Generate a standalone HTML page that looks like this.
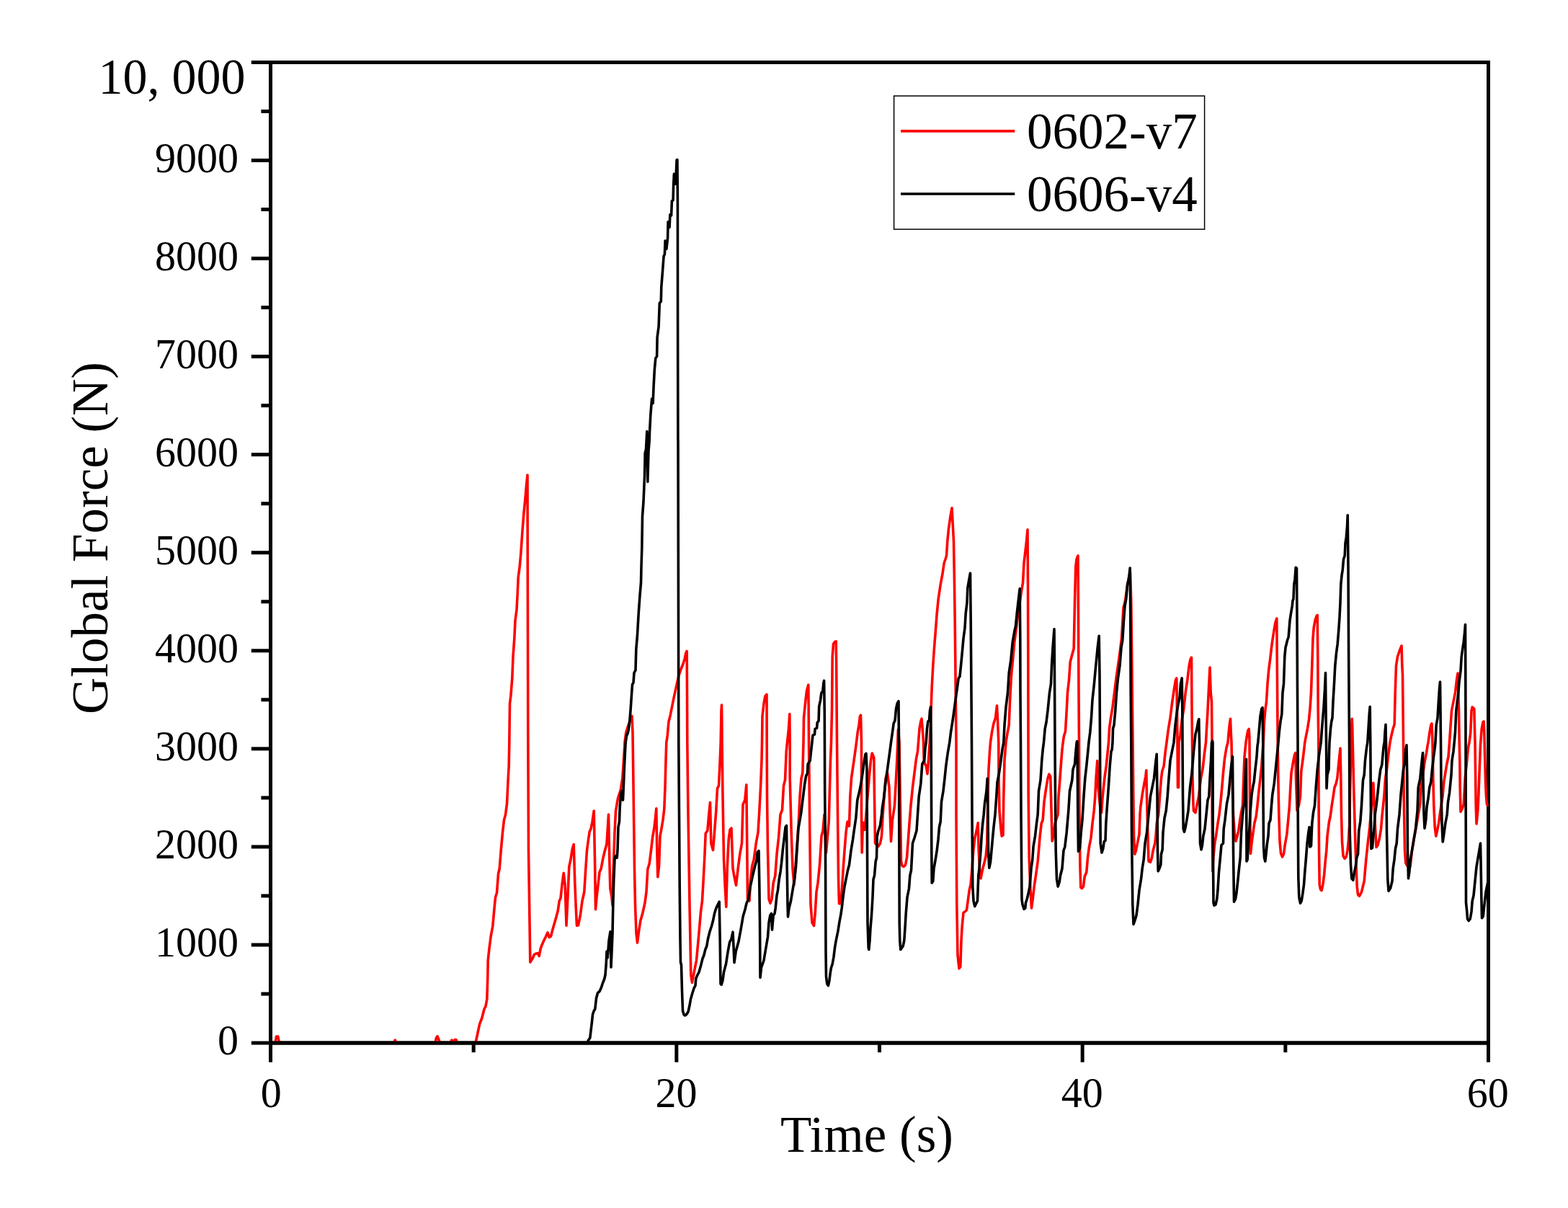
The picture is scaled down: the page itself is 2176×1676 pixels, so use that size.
<!DOCTYPE html>
<html lang="en"><head><meta charset="utf-8"><title>Global Force vs Time</title>
<style>html,body{margin:0;padding:0;background:#fff}body{width:2176px;height:1676px;overflow:hidden}svg{display:block}text{font-family:"Liberation Serif","Times New Roman",serif;fill:#000}</style></head><body>
<svg width="2176" height="1676" viewBox="0 0 2176 1676" role="img" aria-label="Global Force (N) versus Time (s)">
<rect x="0" y="0" width="2176" height="1676" fill="#fff"/>
<rect x="375.5" y="86.5" width="1690" height="1360.5" fill="none" stroke="#000" stroke-width="5"/>
<g fill="none" stroke-width="3.6" stroke-linejoin="round" stroke-linecap="round">
<polyline stroke="#ff0000" points="375.5,1447.0 382.0,1447.0 383.5,1438.0 385.8,1438.0 387.5,1447.0 546.5,1447.0 548.3,1443.0 550.0,1447.0 604.0,1447.0 605.5,1440.0 607.0,1437.6 609.5,1444.0 611.0,1447.0 625.0,1447.0 626.8,1443.0 628.5,1446.0 630.0,1446.0 631.0,1442.5 633.0,1442.5 634.5,1447.0 659.5,1447.0 660.0,1447.0 665.5,1421.2 668.8,1412.5 672.0,1400.0 674.0,1396.2 675.8,1386.2 676.8,1355.0 677.2,1332.5 678.8,1317.5 681.2,1298.8 683.8,1285.0 685.8,1262.5 687.5,1245.0 689.5,1238.8 691.5,1212.5 693.2,1205.0 695.2,1180.0 697.5,1155.0 699.5,1137.5 701.5,1130.5 703.5,1115.0 705.2,1080.0 706.2,1062.5 706.8,1030.0 706.8,1030.0 707.5,976.0 708.8,966.0 710.8,941.0 712.0,911.0 713.8,886.0 715.0,861.0 717.0,846.0 718.2,823.5 719.2,801.0 721.2,786.0 723.0,766.0 725.0,736.0 727.0,711.0 728.8,693.5 730.5,673.5 732.0,659.0 732.2,761.0 732.5,886.0 732.8,1030.0 732.8,1030.0 733.5,1180.0 735.0,1280.0 735.8,1335.0 737.0,1333.0 739.0,1330.0 741.2,1324.5 743.8,1323.0 746.2,1322.5 748.2,1326.5 750.2,1316.2 752.0,1311.2 754.5,1305.5 757.0,1300.5 760.0,1293.8 762.2,1300.5 764.5,1299.0 766.8,1290.0 769.0,1282.5 771.5,1273.8 774.2,1263.8 776.2,1250.0 778.0,1246.2 780.0,1227.5 782.2,1211.2 784.2,1228.8 786.0,1284.2 788.0,1242.5 789.8,1202.5 792.0,1192.5 794.2,1178.0 796.2,1171.5 797.8,1225.0 799.2,1258.8 800.5,1284.2 802.5,1283.8 805.5,1268.8 808.0,1250.0 810.8,1237.5 812.5,1210.0 814.5,1180.0 816.5,1165.0 818.2,1153.8 820.0,1150.0 822.0,1140.0 824.2,1125.0 825.5,1192.5 826.5,1261.8 828.0,1245.0 830.0,1227.5 832.0,1210.0 834.2,1205.0 837.0,1190.0 839.5,1180.0 842.0,1170.5 844.5,1130.0 845.8,1192.5 846.8,1232.5 848.8,1243.8 850.0,1256.2 851.2,1205.0 853.0,1155.0 854.5,1125.0 857.5,1107.5 861.2,1096.2 863.8,1080.0 865.5,1055.0 867.0,1030.0 867.0,1030.0 868.8,1016.0 871.2,1008.5 873.8,1001.0 875.8,996.0 877.0,993.5 878.0,1016.0 878.2,1030.0 878.2,1030.0 879.2,1105.0 880.5,1205.0 881.5,1255.0 883.0,1295.0 884.5,1308.0 886.5,1292.5 888.8,1277.5 892.0,1266.2 895.0,1252.5 897.0,1237.5 898.8,1206.2 901.2,1198.0 903.8,1177.5 905.5,1162.5 908.0,1147.5 909.5,1135.0 910.8,1121.8 911.8,1180.0 912.8,1216.8 914.5,1202.5 916.0,1160.0 917.5,1152.5 920.0,1137.5 921.8,1122.5 923.0,1092.5 924.0,1055.0 924.8,1030.0 924.8,1030.0 926.2,1021.0 928.0,1001.0 930.0,993.5 932.5,981.0 935.0,968.5 937.5,957.2 940.0,946.0 942.0,937.2 945.0,928.5 948.0,921.0 950.0,914.8 951.8,906.0 953.2,903.5 953.5,961.0 953.8,1030.0 953.8,1030.0 955.0,1130.0 957.0,1255.0 958.8,1352.5 960.5,1363.2 962.5,1352.5 964.5,1342.5 966.5,1332.5 968.8,1307.5 970.8,1285.0 972.5,1265.0 974.5,1250.0 976.2,1220.0 978.0,1185.0 979.2,1156.2 981.8,1152.5 983.8,1130.0 985.5,1113.2 986.8,1170.0 989.5,1179.5 991.5,1155.0 993.8,1125.0 995.5,1093.8 997.5,1090.0 999.2,1055.0 1000.2,1030.0 1000.2,1030.0 1001.0,986.0 1001.5,978.0 1001.8,998.5 1002.0,1030.0 1002.0,1030.0 1003.0,1105.0 1004.5,1192.5 1006.2,1230.0 1007.8,1258.2 1009.2,1205.0 1011.2,1165.0 1013.0,1151.2 1015.0,1149.0 1017.0,1205.0 1019.0,1216.2 1021.5,1228.2 1024.2,1205.0 1026.8,1185.0 1029.5,1170.0 1031.0,1116.2 1033.8,1110.0 1035.8,1088.8 1036.8,1180.0 1037.5,1247.5 1040.0,1250.0 1041.5,1220.0 1043.8,1201.2 1046.2,1192.5 1049.2,1170.0 1052.0,1155.0 1053.8,1125.0 1055.5,1092.5 1057.0,1055.0 1057.5,1030.0 1057.5,1030.0 1058.0,993.5 1060.0,976.0 1061.8,966.0 1064.0,963.5 1064.1,998.5 1064.2,1030.0 1064.2,1030.0 1064.5,1105.0 1065.5,1180.0 1067.0,1247.5 1069.0,1253.2 1071.0,1247.5 1073.2,1225.0 1075.8,1215.0 1078.0,1185.0 1080.5,1162.5 1083.0,1130.0 1085.5,1123.8 1087.5,1090.0 1089.5,1082.5 1091.2,1042.5 1092.5,1030.0 1092.5,1030.0 1094.5,1011.0 1095.8,990.5 1096.0,1011.0 1096.2,1030.0 1096.2,1030.0 1096.2,1080.0 1098.2,1155.0 1100.0,1205.0 1102.0,1227.5 1103.8,1205.0 1106.2,1170.0 1108.2,1142.5 1110.0,1105.0 1112.0,1080.0 1113.8,1072.5 1115.0,1030.0 1115.0,1030.0 1115.5,996.0 1117.5,976.0 1119.5,958.5 1121.8,950.2 1122.2,986.0 1122.5,1030.0 1122.5,1030.0 1123.8,1155.0 1125.0,1255.0 1127.0,1280.0 1129.5,1284.5 1131.2,1267.5 1133.0,1237.5 1135.0,1225.0 1137.5,1200.0 1140.0,1160.0 1142.0,1152.5 1144.0,1130.0 1146.5,1183.0 1150.2,1140.0 1151.5,1092.5 1152.5,1055.0 1153.5,1030.0 1153.5,1030.0 1154.5,986.0 1155.2,911.0 1156.5,893.5 1158.5,890.5 1160.2,889.8 1160.8,936.0 1161.5,1030.0 1161.5,1030.0 1162.0,1080.0 1162.8,1155.0 1163.5,1217.5 1164.5,1253.8 1166.5,1253.8 1168.2,1237.5 1170.2,1205.0 1172.0,1180.0 1174.0,1155.0 1176.0,1140.0 1178.5,1146.2 1179.8,1105.0 1181.5,1080.0 1184.0,1062.5 1186.5,1045.0 1188.5,1030.0 1188.5,1030.0 1190.2,1016.0 1192.0,1006.0 1193.5,993.5 1194.5,992.2 1195.0,1011.0 1195.5,1030.0 1195.5,1030.0 1195.5,1080.0 1195.5,1130.0 1196.2,1183.0 1197.0,1155.0 1197.8,1141.2 1199.5,1145.0 1200.2,1151.2 1202.0,1130.0 1204.0,1105.0 1206.5,1075.0 1208.5,1055.0 1210.2,1045.0 1212.8,1051.2 1213.5,1105.0 1214.5,1170.0 1216.5,1172.5 1219.0,1174.2 1221.5,1170.0 1223.5,1160.0 1225.2,1130.0 1227.0,1105.0 1229.0,1080.0 1231.5,1072.5 1234.0,1092.5 1235.2,1130.0 1236.5,1167.5 1238.5,1137.5 1241.5,1117.5 1243.5,1080.0 1244.8,1055.0 1245.8,1030.0 1245.8,1030.0 1246.2,1016.0 1246.5,1012.0 1247.2,1021.0 1248.0,1030.0 1248.0,1030.0 1249.2,1105.0 1250.5,1195.0 1252.0,1201.2 1254.0,1202.5 1256.5,1200.0 1258.5,1190.0 1260.2,1167.5 1262.0,1142.5 1264.0,1117.5 1266.5,1092.5 1269.0,1072.5 1271.5,1052.5 1273.5,1042.5 1274.5,1030.0 1274.5,1030.0 1276.0,1011.0 1277.8,1001.0 1279.0,997.2 1280.2,1011.0 1281.5,1030.0 1281.5,1030.0 1282.2,1055.0 1283.5,1060.0 1285.2,1062.5 1287.0,1073.8 1288.5,1055.0 1290.2,1030.0 1290.2,1030.0 1291.5,1001.0 1292.0,986.0 1293.2,953.5 1294.8,923.5 1296.5,898.5 1298.5,873.5 1300.2,851.0 1302.2,831.0 1305.2,811.0 1307.8,797.2 1310.2,781.0 1312.0,776.0 1313.5,771.0 1314.8,751.0 1316.5,733.5 1319.0,716.0 1321.0,704.8 1322.0,723.5 1323.5,751.0 1324.5,811.0 1325.2,861.0 1326.0,936.0 1326.5,986.0 1327.0,1030.0 1327.0,1030.0 1327.0,1130.0 1327.8,1255.0 1329.0,1325.0 1331.0,1343.8 1332.8,1341.2 1334.0,1305.0 1335.2,1285.0 1337.0,1266.2 1339.0,1265.0 1341.5,1262.5 1343.2,1250.0 1345.2,1235.0 1347.0,1227.5 1349.0,1205.0 1350.8,1180.0 1352.8,1162.5 1355.2,1152.5 1357.2,1141.8 1358.2,1180.0 1359.5,1205.0 1361.0,1218.8 1362.8,1210.0 1364.5,1202.5 1366.5,1195.0 1368.2,1187.5 1369.8,1170.0 1371.0,1105.0 1372.0,1067.5 1373.5,1042.5 1374.5,1030.0 1374.5,1030.0 1376.5,1016.0 1379.0,1003.5 1381.5,996.0 1383.5,979.0 1384.5,998.5 1385.8,1030.0 1385.8,1030.0 1386.0,1080.0 1387.0,1125.0 1389.0,1150.0 1390.2,1160.0 1392.0,1158.8 1392.8,1105.0 1394.0,1055.0 1396.0,1030.0 1396.0,1030.0 1397.8,1018.5 1400.2,1006.0 1401.5,973.5 1402.8,948.5 1404.0,931.0 1406.0,911.0 1407.8,891.0 1410.2,873.5 1412.8,851.0 1415.2,836.0 1417.8,818.5 1419.5,808.5 1421.0,781.0 1422.8,766.0 1424.5,751.0 1426.0,734.8 1426.5,811.0 1426.8,911.0 1427.0,1030.0 1427.0,1030.0 1427.2,1105.0 1428.2,1190.0 1429.8,1230.0 1431.5,1260.0 1433.5,1245.0 1435.2,1230.0 1437.8,1212.5 1440.2,1195.0 1441.5,1180.0 1443.2,1160.0 1445.2,1142.5 1447.2,1137.5 1449.0,1112.5 1451.5,1095.0 1454.0,1080.0 1455.8,1074.2 1457.8,1077.5 1458.5,1105.0 1459.5,1142.5 1460.2,1167.0 1462.0,1160.0 1464.0,1142.5 1466.5,1135.0 1468.2,1130.0 1469.0,1105.0 1471.0,1080.0 1472.8,1055.0 1474.0,1040.0 1475.2,1030.0 1475.2,1030.0 1476.5,1021.0 1478.5,1014.8 1480.2,986.0 1481.5,961.0 1483.5,943.5 1485.2,918.5 1487.8,908.5 1490.2,899.8 1491.5,836.0 1492.8,786.0 1494.0,776.0 1496.0,771.0 1496.5,861.0 1497.0,961.0 1497.5,1030.0 1497.5,1030.0 1497.8,1105.0 1498.2,1155.0 1499.0,1205.0 1499.8,1231.2 1501.5,1232.5 1503.5,1230.0 1505.2,1216.2 1507.8,1210.0 1509.5,1190.0 1511.5,1175.0 1514.0,1162.5 1516.0,1142.5 1518.2,1125.0 1519.8,1105.0 1521.0,1080.0 1522.8,1055.5 1524.0,1092.5 1526.5,1117.5 1528.5,1127.5 1530.2,1105.0 1532.8,1080.0 1535.2,1062.5 1537.0,1045.0 1538.5,1030.0 1538.5,1030.0 1539.5,1011.0 1541.5,996.0 1544.0,981.0 1546.5,961.0 1549.0,941.0 1551.5,923.5 1554.0,906.0 1556.5,886.0 1559.0,843.5 1561.5,833.5 1564.0,816.0 1566.5,801.0 1568.5,794.8 1569.8,836.0 1571.0,936.0 1572.0,1030.0 1572.0,1030.0 1572.8,1105.0 1573.5,1160.0 1574.8,1185.0 1576.5,1180.0 1578.5,1170.0 1581.0,1157.5 1582.0,1130.0 1582.8,1120.0 1585.2,1102.5 1587.8,1087.5 1589.8,1077.5 1590.8,1068.8 1591.5,1105.0 1592.8,1155.0 1594.0,1195.0 1596.5,1196.2 1598.5,1190.0 1600.2,1180.0 1602.8,1170.0 1604.0,1160.0 1605.2,1142.5 1607.8,1130.0 1609.5,1105.0 1611.5,1080.0 1612.8,1070.0 1615.2,1062.5 1617.0,1045.0 1619.0,1030.0 1619.0,1030.0 1621.5,1011.0 1624.0,996.0 1626.5,976.0 1629.0,958.5 1631.5,943.5 1632.8,941.0 1633.5,986.0 1634.0,1030.0 1634.0,1030.0 1634.5,1092.5 1635.5,1092.5 1636.0,1030.0 1636.0,1030.0 1637.8,1021.0 1640.2,998.5 1642.8,983.5 1645.2,961.0 1647.8,943.5 1650.2,923.5 1652.0,914.8 1653.5,912.2 1654.0,986.0 1654.5,1030.0 1654.5,1030.0 1655.0,1080.0 1655.8,1112.5 1656.5,1125.0 1659.0,1127.5 1661.0,1117.5 1663.5,1105.0 1666.5,1080.0 1669.0,1067.5 1671.5,1045.0 1673.5,1030.0 1673.5,1030.0 1674.5,1011.0 1676.0,986.0 1677.8,948.5 1679.0,926.0 1680.2,961.0 1681.5,973.5 1682.0,1030.0 1682.0,1030.0 1682.2,1130.0 1682.8,1208.8 1683.8,1190.0 1685.8,1170.0 1687.5,1160.0 1690.0,1142.5 1692.0,1130.0 1694.0,1112.5 1695.8,1092.5 1697.5,1072.5 1699.5,1052.5 1702.0,1037.5 1704.0,1030.0 1704.0,1030.0 1705.2,1016.0 1706.5,1003.5 1707.5,997.2 1708.2,1016.0 1709.0,1030.0 1709.0,1030.0 1709.5,1055.0 1710.2,1092.5 1711.5,1130.0 1713.2,1155.0 1715.0,1167.0 1717.0,1160.0 1718.8,1152.5 1720.8,1137.5 1722.5,1127.5 1724.5,1117.5 1725.8,1080.0 1727.0,1050.0 1729.0,1030.0 1729.0,1030.0 1730.8,1018.5 1732.0,1013.5 1733.2,1011.5 1733.8,1021.0 1734.0,1030.0 1734.0,1030.0 1734.5,1105.0 1735.5,1184.2 1737.0,1170.0 1739.0,1155.0 1740.8,1142.5 1743.2,1132.5 1745.0,1117.5 1747.0,1097.5 1749.0,1080.0 1750.8,1062.5 1752.0,1045.0 1753.2,1030.0 1753.2,1030.0 1754.5,1001.0 1755.8,986.0 1757.5,973.5 1759.0,948.5 1760.8,928.5 1762.5,916.0 1764.5,898.5 1766.2,886.0 1768.2,873.5 1770.0,863.5 1771.8,858.0 1772.2,911.0 1772.8,986.0 1773.2,1030.0 1773.2,1030.0 1773.8,1080.0 1774.8,1130.0 1776.0,1167.5 1777.5,1183.8 1779.5,1188.8 1781.5,1185.0 1783.2,1172.5 1785.8,1157.5 1787.5,1140.0 1789.5,1117.5 1790.8,1092.5 1792.0,1072.5 1794.5,1057.5 1796.5,1047.5 1797.8,1044.5 1798.5,1080.0 1800.0,1124.5 1802.5,1117.5 1804.5,1105.0 1805.8,1070.0 1808.2,1052.5 1810.0,1037.5 1810.8,1030.0 1810.8,1030.0 1812.5,1021.0 1814.5,1011.0 1816.5,998.5 1818.2,981.0 1819.5,961.0 1820.8,923.5 1822.0,886.0 1823.2,871.0 1825.0,861.0 1827.0,854.8 1828.2,853.5 1828.8,911.0 1829.2,986.0 1829.8,1030.0 1829.8,1030.0 1830.0,1105.0 1830.5,1180.0 1831.2,1227.5 1832.5,1233.8 1834.0,1235.5 1835.8,1227.5 1837.5,1215.0 1839.0,1197.5 1840.8,1180.0 1842.0,1160.0 1844.5,1140.0 1846.2,1132.5 1848.2,1117.5 1850.2,1105.0 1852.0,1092.5 1854.0,1087.5 1855.8,1080.0 1857.0,1067.5 1858.2,1055.0 1860.0,1038.2 1860.8,1080.0 1861.5,1130.0 1862.5,1167.5 1864.0,1187.5 1866.0,1191.2 1868.2,1188.8 1870.0,1180.0 1871.5,1165.0 1872.8,1142.5 1873.5,1105.0 1874.5,1055.0 1875.0,1030.0 1875.0,1030.0 1875.8,1006.0 1876.2,997.2 1876.8,1011.0 1877.2,1030.0 1877.2,1030.0 1879.0,1105.0 1881.2,1180.0 1883.2,1230.0 1884.5,1241.2 1886.5,1243.2 1889.5,1237.5 1893.2,1222.5 1895.8,1192.5 1898.2,1170.0 1900.8,1147.5 1902.8,1125.0 1904.5,1105.0 1905.8,1086.2 1907.0,1112.5 1908.2,1142.5 1910.0,1175.5 1912.0,1172.5 1914.5,1162.5 1916.5,1150.0 1918.2,1130.0 1920.8,1105.0 1922.5,1080.0 1924.5,1067.5 1927.0,1045.0 1929.0,1030.0 1929.0,1030.0 1930.8,1021.0 1933.2,1011.0 1935.2,1004.8 1936.2,961.0 1937.5,923.5 1939.5,911.0 1942.0,903.5 1945.0,896.0 1945.8,923.5 1946.5,936.0 1947.5,1030.0 1947.5,1030.0 1948.2,1105.0 1949.5,1180.0 1950.8,1197.5 1952.8,1201.2 1957.0,1202.5 1959.5,1180.0 1962.0,1165.0 1965.8,1145.0 1968.2,1130.0 1970.8,1115.0 1972.0,1092.5 1974.5,1075.0 1977.0,1057.5 1979.5,1045.0 1981.0,1035.0 1982.0,1030.0 1982.0,1030.0 1984.0,1016.0 1985.8,1006.0 1987.0,1004.0 1987.5,1016.0 1988.0,1030.0 1988.0,1030.0 1988.8,1080.0 1989.8,1117.5 1991.2,1147.5 1992.8,1160.0 1994.5,1152.5 1996.5,1142.5 1998.2,1130.0 2000.0,1117.5 2002.0,1105.0 2003.8,1085.0 2005.8,1072.5 2007.8,1060.0 2010.0,1050.0 2011.5,1030.0 2011.5,1030.0 2012.8,1011.0 2014.5,986.0 2017.0,973.5 2019.5,961.0 2021.5,943.5 2023.0,934.0 2023.8,961.0 2024.5,986.0 2025.2,1030.0 2025.2,1030.0 2025.8,1055.0 2026.2,1092.5 2027.0,1126.2 2029.5,1121.2 2031.2,1116.2 2033.2,1080.0 2035.8,1055.0 2037.5,1037.5 2039.0,1030.0 2039.0,1030.0 2040.8,1016.0 2042.0,986.0 2043.2,981.0 2045.8,983.5 2046.5,1011.0 2047.0,1030.0 2047.0,1030.0 2047.5,1067.5 2048.2,1117.5 2049.0,1143.0 2050.8,1125.0 2051.8,1105.3 2053.1,1069.5 2054.5,1033.7 2056.2,1011.3 2058.0,1001.8 2059.1,1001.0 2059.8,1015.8 2060.7,1051.6 2061.6,1087.4 2062.5,1105.3 2063.4,1115.5 2064.0,1117.2"/>
<polyline stroke="#000" points="375.5,1447.0 814.0,1447.0 814.5,1447.0 817.0,1442.5 818.8,1440.0 820.0,1430.0 821.5,1417.5 822.5,1407.5 824.2,1402.5 825.8,1400.0 827.5,1385.0 829.5,1377.5 832.0,1375.5 834.5,1370.0 836.5,1363.8 838.8,1358.0 840.0,1352.5 841.2,1337.5 842.0,1320.0 843.2,1328.8 845.0,1305.0 847.0,1292.5 847.8,1325.0 848.0,1342.0 849.0,1320.0 850.0,1295.0 850.8,1255.0 851.8,1220.0 853.0,1192.5 854.0,1187.5 856.2,1190.0 857.0,1180.0 858.0,1147.5 859.5,1140.0 860.2,1120.0 861.5,1102.5 863.0,1097.5 864.5,1110.0 865.5,1087.5 866.5,1062.5 867.5,1042.5 868.2,1030.0 868.2,1030.0 869.5,1021.0 871.2,1017.2 872.5,1011.0 873.8,1001.0 875.0,986.0 876.2,968.5 877.5,949.8 879.0,947.2 880.0,933.5 882.0,929.8 882.8,901.0 884.5,881.0 886.2,851.0 888.0,826.0 889.5,808.5 890.0,786.0 890.8,761.0 891.5,716.0 893.0,696.0 894.5,661.0 895.2,628.5 896.5,623.5 897.8,598.5 898.8,668.5 900.0,626.0 901.2,611.0 901.5,601.0 902.8,575.9 904.6,553.4 906.1,559.6 907.1,535.8 908.3,513.3 909.8,497.0 911.6,494.5 912.1,468.2 914.1,453.1 915.3,420.6 917.3,418.1 917.8,398.0 919.6,375.4 921.1,355.4 922.4,352.9 923.1,334.1 924.9,345.4 926.6,330.3 927.1,307.8 929.1,315.3 929.9,297.7 931.6,299.0 932.4,278.9 934.1,277.7 934.6,257.6 935.4,241.3 937.4,255.1 938.4,237.6 939.1,222.1 939.9,221.6 940.4,275.2 940.6,450.6 940.9,611.0 941.0,611.0 941.8,1030.0 941.8,1030.0 942.5,1130.0 943.2,1230.0 944.0,1305.0 944.5,1335.0 945.5,1338.8 946.5,1375.0 947.5,1402.5 949.2,1408.0 950.8,1408.8 953.0,1407.0 955.0,1403.8 957.0,1395.0 958.5,1386.2 961.0,1377.5 963.0,1371.2 965.0,1367.5 965.8,1357.5 968.0,1352.5 970.0,1348.8 972.5,1340.0 975.0,1330.0 977.0,1325.0 978.8,1317.5 980.8,1312.5 982.5,1302.5 985.0,1292.5 987.5,1285.0 989.5,1277.5 991.5,1267.5 993.8,1260.0 996.2,1255.0 998.2,1251.2 999.2,1305.0 1000.0,1365.0 1001.2,1366.2 1003.0,1360.0 1004.5,1348.8 1007.5,1337.5 1010.0,1321.2 1012.5,1307.5 1015.0,1302.5 1017.0,1293.2 1018.0,1312.5 1019.0,1335.5 1021.2,1320.0 1025.0,1306.2 1028.0,1290.0 1031.2,1271.2 1033.8,1262.5 1036.2,1252.5 1038.8,1247.5 1041.2,1230.0 1044.5,1215.0 1047.5,1202.5 1050.0,1193.8 1051.2,1182.5 1053.0,1180.5 1053.8,1227.5 1054.5,1280.0 1055.0,1356.2 1056.5,1342.5 1060.0,1332.5 1062.5,1317.5 1065.5,1300.0 1067.0,1280.0 1068.8,1270.0 1070.5,1267.5 1071.5,1290.0 1073.2,1270.0 1075.0,1267.5 1076.2,1260.0 1078.0,1242.5 1079.5,1235.0 1081.2,1220.0 1083.0,1210.0 1084.5,1197.5 1086.2,1180.0 1088.0,1165.0 1090.0,1147.5 1091.5,1145.5 1092.2,1205.0 1093.0,1255.0 1093.5,1272.0 1095.0,1260.0 1097.5,1250.0 1100.0,1235.0 1102.5,1220.0 1104.5,1202.5 1107.9,1150.0 1111.7,1128.0 1114.8,1103.0 1116.7,1087.9 1118.6,1076.6 1120.5,1072.8 1121.1,1060.3 1124.2,1055.3 1125.5,1042.8 1128.0,1020.2 1130.5,1019.0 1131.1,1011.4 1133.6,1010.2 1134.2,1002.7 1136.1,1000.2 1136.7,980.1 1138.6,971.3 1139.9,961.3 1141.8,958.8 1142.8,948.0 1143.6,944.4 1144.3,990.0 1144.7,1100.0 1145.5,1180.0 1146.0,1320.0 1146.5,1355.0 1147.8,1365.0 1149.5,1367.5 1151.0,1360.0 1152.2,1350.0 1153.5,1342.5 1155.2,1337.5 1157.0,1327.5 1158.5,1315.0 1160.2,1305.0 1162.8,1292.5 1165.2,1277.5 1166.5,1271.2 1168.2,1260.0 1170.2,1242.5 1172.0,1230.0 1174.5,1217.5 1176.5,1207.5 1178.5,1200.0 1181.0,1180.0 1183.5,1165.0 1185.2,1152.5 1187.8,1135.0 1189.8,1110.0 1192.8,1097.5 1195.2,1085.0 1197.8,1067.5 1199.5,1055.0 1201.0,1046.2 1202.0,1045.5 1203.0,1067.5 1203.5,1180.0 1204.0,1280.0 1205.2,1315.0 1205.8,1317.5 1207.0,1305.0 1208.0,1287.5 1209.5,1270.0 1211.0,1245.0 1212.0,1220.0 1213.5,1215.0 1215.2,1195.0 1216.5,1190.0 1217.2,1160.0 1219.0,1152.5 1221.5,1145.0 1223.5,1130.0 1224.5,1120.0 1226.5,1107.5 1229.0,1085.0 1231.5,1067.5 1233.5,1052.5 1235.2,1040.0 1236.5,1030.0 1236.5,1030.0 1238.5,1016.0 1240.2,1003.5 1242.0,999.8 1243.5,983.5 1245.2,976.0 1247.0,972.8 1247.2,998.5 1247.5,1030.0 1247.5,1030.0 1247.8,1155.0 1248.2,1280.0 1248.8,1305.0 1249.8,1317.5 1251.5,1315.0 1253.2,1312.5 1254.8,1305.0 1256.0,1287.5 1257.2,1267.5 1259.0,1245.0 1261.5,1232.5 1262.8,1215.0 1264.5,1207.5 1266.5,1170.0 1269.0,1162.5 1272.0,1152.5 1273.5,1130.0 1275.2,1105.0 1277.8,1087.5 1279.8,1060.0 1282.8,1055.0 1284.0,1037.5 1285.2,1030.0 1285.2,1030.0 1286.5,1011.0 1287.8,1001.0 1289.5,999.8 1290.5,986.0 1291.5,981.0 1292.0,1011.0 1292.2,1030.0 1292.2,1030.0 1292.5,1105.0 1292.8,1180.0 1293.2,1225.0 1294.8,1222.5 1296.0,1205.0 1297.8,1195.0 1300.2,1180.0 1302.0,1165.0 1303.5,1147.5 1305.2,1140.0 1306.5,1112.5 1309.0,1097.5 1311.0,1080.0 1312.8,1062.5 1315.2,1045.0 1317.8,1030.0 1317.8,1030.0 1319.5,1016.0 1321.5,1003.5 1324.0,986.0 1326.0,971.0 1328.5,953.5 1330.2,941.0 1332.0,938.5 1333.5,923.5 1335.2,906.0 1337.0,886.0 1339.0,871.0 1340.2,851.0 1342.0,836.0 1342.8,816.0 1344.5,806.0 1346.5,795.2 1347.2,861.0 1347.8,936.0 1348.5,1030.0 1348.5,1030.0 1349.0,1130.0 1349.8,1230.0 1351.0,1250.0 1352.8,1257.5 1354.5,1253.8 1356.5,1250.0 1357.8,1215.0 1359.0,1205.0 1361.0,1180.0 1362.2,1160.0 1363.5,1145.0 1365.2,1130.0 1366.5,1115.0 1369.0,1097.5 1370.2,1080.0 1371.0,1130.0 1371.5,1180.0 1372.8,1204.2 1374.5,1196.2 1376.0,1180.0 1377.8,1160.0 1379.0,1147.5 1381.0,1130.0 1382.8,1105.0 1384.0,1085.0 1386.5,1072.5 1389.0,1055.0 1391.0,1040.0 1392.8,1030.0 1392.8,1030.0 1394.0,1006.0 1396.0,981.0 1398.5,961.0 1400.2,933.5 1402.8,916.0 1405.2,891.0 1407.8,876.0 1409.5,868.5 1411.5,848.5 1413.5,831.0 1415.2,816.8 1415.8,886.0 1416.0,961.0 1416.5,1030.0 1416.5,1030.0 1417.0,1130.0 1418.0,1247.5 1419.0,1255.0 1421.0,1261.2 1422.8,1260.0 1423.5,1252.5 1425.2,1247.5 1427.0,1240.0 1429.0,1230.0 1431.0,1205.0 1432.8,1192.5 1434.0,1175.0 1436.5,1160.0 1438.5,1142.5 1440.2,1130.0 1441.5,1097.5 1444.0,1082.5 1445.8,1055.0 1447.2,1040.0 1448.5,1030.0 1448.5,1030.0 1450.2,1011.0 1452.0,1002.2 1454.0,986.0 1456.5,961.0 1458.5,948.5 1459.5,923.5 1461.0,898.5 1462.0,886.0 1463.0,872.8 1463.5,936.0 1464.0,1030.0 1464.0,1030.0 1464.5,1105.0 1465.2,1180.0 1466.5,1220.0 1468.2,1230.0 1470.2,1223.8 1471.5,1215.0 1474.0,1205.0 1476.0,1180.0 1477.8,1175.0 1480.2,1155.0 1482.8,1125.0 1484.5,1097.5 1487.8,1082.5 1489.0,1067.5 1491.5,1060.0 1493.2,1040.0 1494.2,1030.0 1494.2,1030.0 1494.6,1028.5 1495.0,1030.0 1495.0,1030.0 1495.8,1130.0 1496.5,1181.2 1498.5,1177.5 1500.2,1155.0 1502.0,1137.5 1504.0,1105.0 1505.8,1080.0 1507.8,1062.5 1509.8,1042.5 1511.0,1030.0 1511.0,1030.0 1512.8,1016.0 1514.5,996.0 1516.0,971.0 1518.2,951.0 1519.8,933.5 1521.5,916.0 1523.2,898.5 1525.2,882.2 1526.0,936.0 1526.5,1030.0 1526.5,1030.0 1526.8,1105.0 1527.2,1170.0 1529.0,1183.0 1530.8,1177.5 1532.2,1167.5 1534.0,1166.2 1534.8,1142.5 1536.5,1117.5 1538.5,1090.0 1540.2,1062.5 1542.0,1042.5 1543.2,1040.0 1544.0,1030.0 1544.0,1030.0 1544.5,1011.0 1546.0,1006.0 1547.8,986.0 1549.5,961.0 1551.5,941.0 1554.0,923.5 1556.0,898.5 1557.8,888.5 1559.5,861.0 1561.0,841.0 1562.8,831.0 1564.5,811.0 1566.5,803.5 1568.2,788.0 1568.8,861.0 1569.2,961.0 1569.8,1030.0 1569.8,1030.0 1570.5,1155.0 1571.8,1255.0 1573.0,1282.5 1574.8,1277.5 1577.0,1270.0 1579.0,1255.0 1581.0,1235.0 1583.5,1220.0 1585.2,1205.0 1587.2,1192.5 1589.0,1170.0 1591.5,1155.0 1594.0,1130.0 1596.5,1105.0 1599.0,1092.5 1601.5,1080.0 1603.5,1060.0 1605.2,1046.2 1606.0,1105.0 1606.5,1180.0 1607.2,1208.8 1609.0,1205.0 1610.8,1200.0 1611.5,1185.0 1613.2,1178.8 1614.0,1155.0 1616.0,1135.0 1618.2,1125.0 1620.2,1105.0 1622.0,1080.0 1624.0,1055.0 1626.5,1042.5 1629.0,1030.0 1629.0,1030.0 1631.0,1006.0 1633.5,986.0 1635.2,976.0 1637.0,968.5 1638.5,948.5 1640.2,941.0 1640.8,986.0 1641.0,1030.0 1641.0,1030.0 1641.5,1105.0 1642.2,1150.0 1643.5,1154.2 1645.2,1147.5 1647.0,1137.5 1649.0,1125.0 1651.5,1092.5 1654.0,1072.5 1656.5,1042.5 1657.8,1030.0 1657.8,1030.0 1659.0,1018.5 1661.0,1011.0 1662.8,1001.0 1663.8,997.8 1664.0,1011.0 1664.5,1030.0 1664.5,1030.0 1665.0,1105.0 1665.5,1170.0 1667.0,1178.8 1668.5,1172.5 1669.8,1160.0 1672.0,1150.0 1674.0,1130.0 1676.0,1110.0 1677.8,1105.0 1679.0,1080.0 1680.5,1055.0 1681.5,1030.0 1682.2,1030.0 1682.6,1028.0 1683.0,1030.0 1683.0,1030.0 1683.2,1155.0 1684.0,1252.5 1685.0,1256.2 1687.0,1255.0 1688.8,1247.5 1690.0,1235.0 1691.5,1210.0 1693.2,1192.5 1695.0,1172.5 1697.5,1170.0 1698.2,1150.0 1700.0,1137.5 1702.5,1115.0 1705.0,1102.5 1707.0,1080.0 1709.0,1060.0 1710.5,1049.5 1711.0,1105.0 1711.5,1180.0 1712.5,1251.2 1714.5,1247.5 1715.8,1240.0 1717.5,1225.0 1719.5,1205.0 1721.2,1190.0 1722.5,1155.0 1724.5,1130.0 1726.5,1115.0 1728.2,1080.0 1729.5,1053.2 1729.8,1130.0 1730.0,1195.0 1731.2,1192.5 1732.5,1170.0 1734.0,1147.5 1735.2,1125.0 1737.0,1102.5 1739.0,1090.0 1740.2,1085.0 1742.0,1067.5 1744.0,1050.0 1745.0,1035.0 1745.8,1030.0 1745.8,1030.0 1747.5,1011.0 1749.0,993.5 1750.8,983.5 1752.0,981.8 1752.5,1011.0 1752.8,1030.0 1752.8,1030.0 1753.0,1105.0 1753.5,1172.5 1754.5,1190.0 1755.8,1195.0 1757.0,1185.0 1758.2,1172.5 1760.0,1160.0 1761.0,1142.5 1763.0,1137.5 1764.5,1117.5 1765.8,1102.5 1768.2,1087.5 1770.0,1070.0 1772.0,1050.0 1774.0,1030.0 1774.0,1030.0 1775.2,1016.0 1777.0,1001.0 1778.8,991.0 1780.0,961.0 1781.5,948.5 1782.8,911.0 1784.0,898.5 1786.5,888.5 1788.2,883.5 1790.0,861.0 1791.5,851.0 1793.2,841.0 1794.0,833.5 1795.0,831.0 1795.8,811.0 1797.0,803.5 1798.2,787.2 1799.5,788.5 1800.0,861.0 1800.5,961.0 1801.0,1030.0 1801.0,1030.0 1801.2,1130.0 1801.8,1217.5 1802.8,1245.0 1804.5,1253.2 1806.2,1250.0 1807.8,1240.0 1809.5,1227.5 1810.8,1210.0 1812.5,1190.0 1814.0,1170.0 1815.8,1155.0 1817.0,1147.5 1817.8,1175.0 1819.5,1173.8 1820.8,1142.5 1822.5,1127.5 1824.5,1117.5 1826.2,1092.5 1828.2,1067.5 1830.2,1050.0 1832.0,1037.5 1833.2,1030.0 1833.2,1030.0 1834.5,1011.0 1835.8,996.0 1837.0,981.0 1838.5,956.0 1839.5,933.5 1840.0,986.0 1840.5,1030.0 1840.5,1030.0 1840.8,1067.5 1841.0,1093.8 1842.0,1075.0 1844.0,1067.5 1844.5,1045.0 1845.0,1030.0 1845.0,1030.0 1846.5,1011.0 1847.8,1001.0 1849.0,996.0 1850.0,973.5 1851.5,948.5 1852.8,923.5 1854.5,906.0 1856.2,893.5 1857.8,873.5 1859.0,856.0 1860.0,836.0 1860.8,811.0 1862.0,798.5 1863.2,791.0 1864.5,776.0 1866.2,771.0 1867.0,753.5 1868.2,746.0 1869.5,731.0 1870.2,714.8 1871.0,786.0 1871.5,886.0 1872.0,961.0 1872.5,1030.0 1872.5,1030.0 1872.8,1105.0 1873.2,1155.0 1874.5,1200.0 1875.8,1218.8 1877.8,1221.2 1879.5,1210.0 1881.2,1202.5 1882.8,1190.0 1884.5,1185.0 1885.8,1152.5 1887.8,1140.0 1889.5,1117.5 1891.5,1082.5 1893.2,1075.0 1894.5,1055.0 1896.5,1037.5 1897.8,1030.0 1897.8,1030.0 1899.0,1011.0 1900.2,991.0 1901.2,980.5 1901.5,1011.0 1901.8,1030.0 1901.8,1030.0 1902.2,1092.5 1902.8,1177.5 1904.5,1176.2 1905.8,1160.0 1907.0,1150.0 1908.2,1130.0 1910.0,1117.5 1912.0,1100.0 1913.8,1082.5 1915.8,1067.5 1917.8,1061.2 1919.0,1047.5 1920.2,1035.0 1921.2,1030.0 1921.2,1030.0 1922.0,1016.0 1923.0,1005.2 1923.2,1021.0 1923.5,1030.0 1923.5,1030.0 1924.0,1080.0 1924.5,1155.0 1925.8,1220.0 1927.0,1236.2 1929.5,1232.5 1932.0,1222.5 1933.2,1205.0 1935.0,1192.5 1936.5,1177.5 1938.2,1170.0 1939.5,1150.0 1942.0,1130.0 1944.0,1102.5 1945.8,1085.0 1947.5,1067.5 1949.5,1057.5 1950.8,1040.0 1952.0,1033.8 1952.8,1080.0 1953.5,1180.0 1954.5,1218.8 1955.8,1210.0 1957.0,1195.0 1959.5,1180.0 1962.0,1165.0 1964.5,1150.0 1967.0,1125.0 1968.2,1092.5 1970.8,1080.0 1972.5,1062.5 1974.5,1044.5 1975.2,1092.5 1976.0,1130.0 1977.0,1149.2 1978.8,1137.5 1980.0,1120.0 1982.0,1107.5 1983.8,1092.5 1985.8,1085.0 1987.5,1067.5 1989.5,1050.0 1991.2,1037.5 1992.0,1030.0 1992.0,1030.0 1993.2,1006.0 1995.0,996.0 1996.5,971.0 1997.5,956.0 1998.5,946.0 1999.0,986.0 1999.5,1030.0 1999.5,1030.0 2000.0,1092.5 2001.0,1142.5 2002.2,1168.0 2003.8,1157.5 2005.8,1142.5 2008.2,1130.0 2009.5,1112.5 2011.5,1100.0 2014.0,1075.0 2015.0,1055.0 2017.0,1042.5 2018.2,1030.0 2018.2,1030.0 2019.5,1016.0 2020.8,986.0 2022.0,976.0 2023.8,961.0 2025.0,946.0 2027.0,931.0 2028.2,911.0 2030.0,898.5 2031.2,891.0 2032.5,878.5 2033.5,866.5 2033.8,936.0 2034.0,1030.0 2034.0,1030.0 2034.2,1130.0 2034.5,1252.5 2035.8,1265.0 2036.5,1275.0 2038.2,1277.5 2040.2,1275.0 2042.0,1265.0 2043.2,1250.0 2045.0,1242.5 2047.0,1222.5 2049.0,1202.5 2052.0,1185.0 2054.5,1170.0 2055.2,1205.0 2055.8,1242.5 2056.5,1273.8 2058.2,1271.2 2060.0,1255.0 2062.0,1237.5 2064.0,1227.5 2065.5,1220.0"/>
</g>
<g stroke="#000" stroke-width="5" fill="none" stroke-linecap="butt">
<line x1="373" y1="1447" x2="2068" y2="1447"/>
<line x1="375.5" y1="84" x2="375.5" y2="1449.5"/>
<line x1="348.8" y1="1447.00" x2="375.5" y2="1447.00"/>
<line x1="362.4" y1="1378.97" x2="375.5" y2="1378.97"/>
<line x1="348.8" y1="1310.95" x2="375.5" y2="1310.95"/>
<line x1="362.4" y1="1242.92" x2="375.5" y2="1242.92"/>
<line x1="348.8" y1="1174.90" x2="375.5" y2="1174.90"/>
<line x1="362.4" y1="1106.88" x2="375.5" y2="1106.88"/>
<line x1="348.8" y1="1038.85" x2="375.5" y2="1038.85"/>
<line x1="362.4" y1="970.83" x2="375.5" y2="970.83"/>
<line x1="348.8" y1="902.80" x2="375.5" y2="902.80"/>
<line x1="362.4" y1="834.77" x2="375.5" y2="834.77"/>
<line x1="348.8" y1="766.75" x2="375.5" y2="766.75"/>
<line x1="362.4" y1="698.73" x2="375.5" y2="698.73"/>
<line x1="348.8" y1="630.70" x2="375.5" y2="630.70"/>
<line x1="362.4" y1="562.67" x2="375.5" y2="562.67"/>
<line x1="348.8" y1="494.65" x2="375.5" y2="494.65"/>
<line x1="362.4" y1="426.62" x2="375.5" y2="426.62"/>
<line x1="348.8" y1="358.60" x2="375.5" y2="358.60"/>
<line x1="362.4" y1="290.58" x2="375.5" y2="290.58"/>
<line x1="348.8" y1="222.55" x2="375.5" y2="222.55"/>
<line x1="362.4" y1="154.53" x2="375.5" y2="154.53"/>
<line x1="348.8" y1="86.50" x2="375.5" y2="86.50"/>
<line x1="375.50" y1="1447" x2="375.50" y2="1473.7"/>
<line x1="657.17" y1="1447" x2="657.17" y2="1460.1"/>
<line x1="938.83" y1="1447" x2="938.83" y2="1473.7"/>
<line x1="1220.50" y1="1447" x2="1220.50" y2="1460.1"/>
<line x1="1502.17" y1="1447" x2="1502.17" y2="1473.7"/>
<line x1="1783.83" y1="1447" x2="1783.83" y2="1460.1"/>
<line x1="2065.50" y1="1447" x2="2065.50" y2="1473.7"/>
</g>
<g font-size="58" text-anchor="end">
<text transform="translate(331,1463.2) scale(1,1.034)">0</text>
<text transform="translate(331,1327.2) scale(1,1.034)">1000</text>
<text transform="translate(331,1191.1) scale(1,1.034)">2000</text>
<text transform="translate(331,1055.0) scale(1,1.034)">3000</text>
<text transform="translate(331,919.0) scale(1,1.034)">4000</text>
<text transform="translate(331,783.0) scale(1,1.034)">5000</text>
<text transform="translate(331,646.9) scale(1,1.034)">6000</text>
<text transform="translate(331,510.8) scale(1,1.034)">7000</text>
<text transform="translate(331,374.8) scale(1,1.034)">8000</text>
<text transform="translate(331,238.7) scale(1,1.034)">9000</text>
<text transform="translate(340.6,129.6) scale(1,1.024)" font-size="68">10, 000</text>
</g>
<g font-size="58" text-anchor="middle">
<text transform="translate(376.2,1536.2) scale(1,1.034)">0</text>
<text transform="translate(938.6,1536.2) scale(1,1.034)">20</text>
<text transform="translate(1501.8,1536.2) scale(1,1.034)">40</text>
<text transform="translate(2064.8,1536.2) scale(1,1.034)">60</text>
</g>
<text x="1203" y="1598" font-size="71" text-anchor="middle">Time (s)</text>
<text transform="translate(149,746.5) rotate(-90)" font-size="71" text-anchor="middle">Global Force (N)</text>
<rect x="1240.6" y="133.1" width="431" height="185" fill="#fff" stroke="#000" stroke-width="1.5"/>
<line x1="1250" y1="181.8" x2="1408.3" y2="181.8" stroke="#ff0000" stroke-width="3.7"/>
<line x1="1250" y1="269" x2="1408.3" y2="269" stroke="#000" stroke-width="3.7"/>
<text x="1425" y="206.3" font-size="71">0602-v7</text>
<text x="1425" y="293.3" font-size="71">0606-v4</text>
</svg></body></html>
